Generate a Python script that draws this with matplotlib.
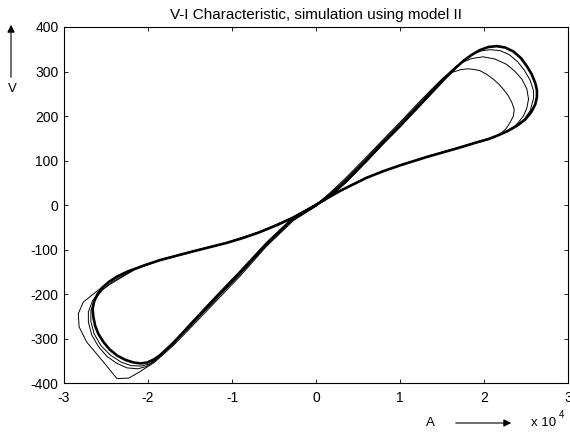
import matplotlib.pyplot as plt

plt.rcParams['font.family'] = ['Liberation Sans', 'DejaVu Sans']
plt.rcParams['font.size'] = 10
plt.rcParams['axes.unicode_minus'] = False

# current in units of 1e4 A, voltage in V
# steady-state loop, traced from the origin up the steep branch
loop_x = [0.00, 0.17, 0.35, 0.60, 0.80, 1.00, 1.20, 1.36, 1.56, 1.66, 1.75, 1.85,
          1.95, 2.05, 2.15, 2.25, 2.35, 2.44, 2.51, 2.57, 2.61, 2.63, 2.63, 2.61,
          2.56, 2.49, 2.40, 2.28, 2.16, 2.05, 1.90, 1.71, 1.32, 1.00, 0.80, 0.60,
          0.45, 0.29, 0.15, 0.00, -0.27, -0.45, -0.67, -0.85, -1.06, -1.46, -1.86,
          -2.05, -2.25, -2.37, -2.46, -2.54, -2.60, -2.64, -2.66, -2.65, -2.63,
          -2.59, -2.53, -2.46, -2.37, -2.27, -2.17, -2.09, -2.01, -1.93, -1.86,
          -1.70, -1.54, -1.22, -0.90, -0.59, -0.27, 0.00]
loop_y = [0, 22, 52, 100, 140, 178, 218, 250, 290, 308, 323, 337,
          348, 355, 357, 354, 345, 330, 312, 293, 274, 258, 243, 226,
          208, 192, 179, 166, 156, 148, 140, 129, 108, 89, 76, 61,
          47, 32, 17, 0, -28, -44, -61, -73, -85, -104, -124,
          -136, -150, -161, -172, -185, -200, -216, -233, -252, -271,
          -290, -308, -324, -338, -348, -354, -356, -354, -347, -338,
          -310, -278, -214, -151, -88, -30, 0]

# start-up cycles: small upper lobe, large lower lobe, shrinking towards the steady loop
cyc1_x = [0.00, 0.17, 0.35, 0.60, 0.80, 1.00, 1.20, 1.36, 1.52, 1.62, 1.72, 1.80,
          1.87, 1.95, 2.03, 2.11, 2.18, 2.24, 2.29, 2.33, 2.36, 2.35, 2.31, 2.26,
          2.19, 2.11, 2.03, 1.90, 1.71, 1.32, 1.00, 0.60, 0.29, 0.00, -0.27, -0.67,
          -1.06, -1.46, -1.86, -2.15, -2.39, -2.53, -2.77, -2.83, -2.82, -2.73,
          -2.53, -2.37, -2.23, -2.10, -1.92, -1.70, -1.54, -1.22, -0.90, -0.59,
          -0.27, 0.00]
cyc1_y = [0, 28, 60, 108, 147, 186, 226, 257, 287, 298, 304, 306,
          305, 302, 294, 283, 271, 258, 245, 231, 215, 200, 185, 171,
          159, 151, 146, 139, 130, 109, 90, 62, 33, 1, -27, -60,
          -84, -103, -123, -143, -165, -182, -218, -244, -274, -308,
          -353, -390, -389, -375, -353, -316, -285, -222, -159, -93,
          -35, -3]

cyc2_x = [0.00, 0.17, 0.35, 0.60, 0.80, 1.00, 1.20, 1.36, 1.56, 1.67, 1.75, 1.85,
          1.99, 2.13, 2.27, 2.37, 2.45, 2.51, 2.53, 2.51, 2.47, 2.41, 2.35, 2.22,
          2.08, 1.90, 1.71, 1.32, 1.00, 0.60, 0.29, 0.00, -0.27, -0.67, -1.06,
          -1.46, -1.86, -2.15, -2.45, -2.58, -2.66, -2.71, -2.71, -2.67, -2.59,
          -2.49, -2.37, -2.25, -2.12, -2.02, -1.93, -1.70, -1.54, -1.22, -0.90,
          -0.59, -0.27, 0.00]
cyc2_y = [0, 26, 57, 105, 145, 183, 223, 254, 293, 312, 321, 329,
          333, 328, 316, 300, 283, 261, 238, 218, 200, 186, 174, 160,
          150, 140, 129, 108, 89, 61, 32, 0, -28, -61, -85,
          -104, -124, -144, -178, -195, -215, -240, -263, -292, -318,
          -340, -356, -366, -368, -363, -352, -312, -281, -218, -155,
          -90, -33, -2]

cyc3_x = [0.00, 0.17, 0.35, 0.60, 0.80, 1.00, 1.20, 1.36, 1.56, 1.66, 1.75, 1.85,
          1.96, 2.07, 2.19, 2.30, 2.40, 2.48, 2.55, 2.59, 2.59, 2.55, 2.48, 2.38,
          2.25, 2.10, 1.90, 1.71, 1.32, 1.00, 0.60, 0.29, 0.00, -0.27, -0.67,
          -1.06, -1.46, -1.86, -2.15, -2.42, -2.54, -2.63, -2.68, -2.68, -2.64,
          -2.56, -2.45, -2.32, -2.20, -2.08, -1.98, -1.90, -1.70, -1.54, -1.22,
          -0.90, -0.59, -0.27, 0.00]
cyc3_y = [0, 20, 49, 97, 137, 175, 215, 247, 287, 306, 325, 338,
          346, 349, 347, 338, 322, 303, 280, 256, 240, 212, 193, 178,
          164, 152, 141, 130, 108, 89, 61, 33, 0, -28, -61,
          -85, -104, -124, -144, -172, -190, -212, -237, -262, -290,
          -316, -337, -353, -361, -362, -357, -346, -313, -275, -210,
          -147, -84, -27, 1]

fig = plt.figure(figsize=(5.7, 4.32), dpi=100)
ax = fig.add_axes([0.1123, 0.1134, 0.8842, 0.8241])

for cx, cy in [(cyc1_x, cyc1_y), (cyc2_x, cyc2_y), (cyc3_x, cyc3_y)]:
    ax.plot(cx, cy, color='k', lw=0.7)
ax.plot(loop_x, loop_y, color='k', lw=1.9, solid_joinstyle='round')

ax.set_xlim(-3, 3)
ax.set_ylim(-400, 400)
ax.set_xticks(range(-3, 4))
ax.set_yticks(range(-400, 401, 100))
ax.tick_params(direction='in', top=True, right=True, length=3, width=0.6,
               labelsize=10)
ax.tick_params(axis='x', pad=5.5)
ax.tick_params(axis='y', pad=4)
for s in ax.spines.values():
    s.set_linewidth(0.8)
ax.set_title('V-I Characteristic, simulation using model II', fontsize=11, pad=6)

# axis captions with arrows, MATLAB style
arrow = dict(arrowstyle='-|>', color='k', lw=0.8, mutation_scale=11)
ax.annotate('', xy=(11, 410), xytext=(11, 352), xycoords='figure pixels',
            textcoords='figure pixels', arrowprops=arrow)
fig.text(12 / 570, 343 / 432, 'V', ha='center', va='center', fontsize=9.5)
ax.annotate('', xy=(514, 9), xytext=(453, 9), xycoords='figure pixels',
            textcoords='figure pixels', arrowprops=arrow)
fig.text(430 / 570, 9 / 432, 'A', ha='center', va='center', fontsize=9.5)
fig.text(531 / 570, 9 / 432, 'x 10', ha='left', va='center', fontsize=9.5)
fig.text(559 / 570, 17 / 432, '4', ha='left', va='center', fontsize=7)

fig.savefig('out.png', dpi=100)
